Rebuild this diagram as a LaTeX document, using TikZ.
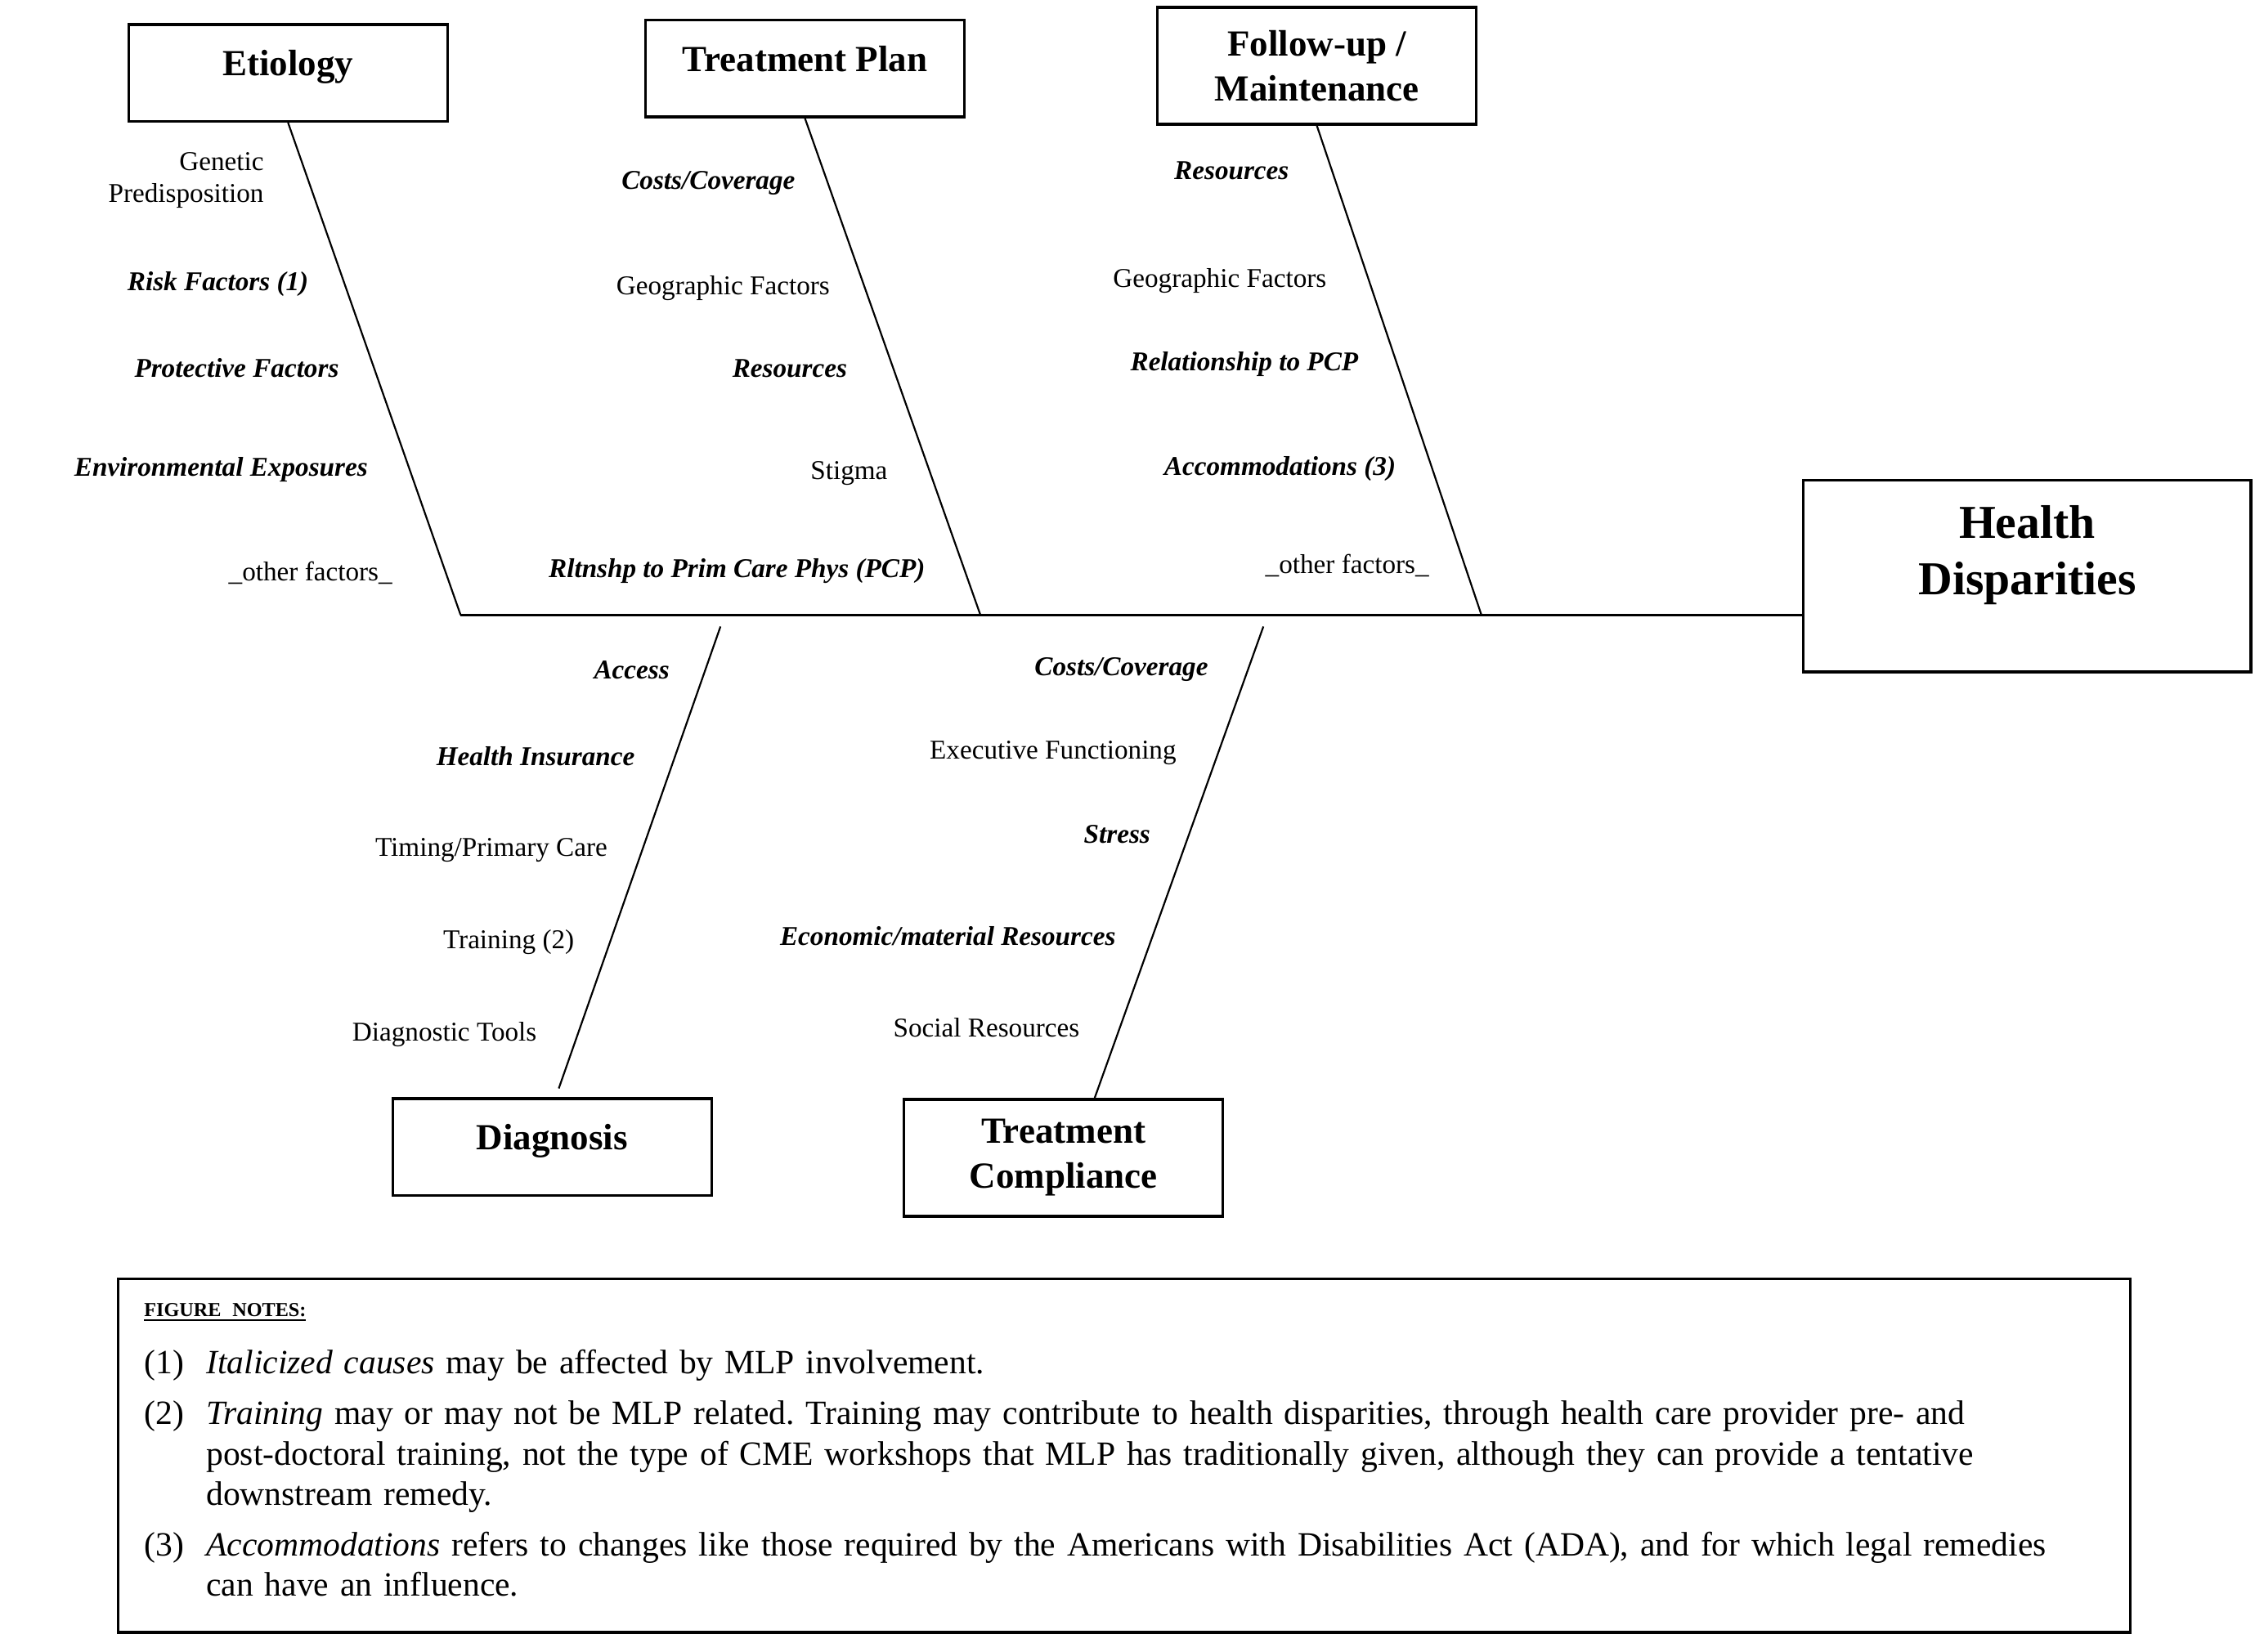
\documentclass[tikz,border=0pt]{standalone}
\usepackage{fontspec}
\setmainfont{Liberation Serif}
\usepackage{tikz}
\frenchspacing

\begin{document}
\begin{tikzpicture}[
  x=0.02cm, y=-0.02cm,
  every node/.style={font=\fontsize{10.7}{12.5}\selectfont},
  % Styles
  headbox/.style={rectangle, draw, line width=1.1pt, minimum width=4.42cm, minimum height=1.34cm, align=center, font=\fontsize{14.5}{17.6}\selectfont\bfseries, text height=0.36cm, text depth=0.28cm},
  headbox2/.style={rectangle, draw, line width=1.1pt, minimum width=4.42cm, minimum height=1.62cm, align=center, font=\fontsize{14.5}{17.6}\selectfont\bfseries},
  effect/.style={rectangle, draw, line width=1.1pt, minimum width=6.2cm, minimum height=2.66cm, align=center, font=\fontsize{18.6}{22.1}\selectfont\bfseries, text depth=0.72cm},
  cause/.style={inner sep=0pt, anchor=east, text height=1.5ex, text depth=0.25ex},
  mlp/.style={cause, font=\fontsize{10.7}{12.5}\selectfont\bfseries\itshape},
  bone/.style={line width=0.7pt},
  spine/.style={line width=1pt},
  notebox/.style={rectangle, draw, line width=1pt, anchor=north west, minimum width=27.88cm, minimum height=4.9cm, inner xsep=0.36cm, text width=27.16cm, align=left, font=\fontsize{13.4}{15.9}\selectfont},
]

  % ── CATEGORY BOXES ─────────────────────────────────────────
  \node[headbox] (etio) at (199.5,50.5) {Etiology};
  \node[headbox] (tplan) at (557.5,47.5) {Treatment Plan};
  \node[headbox2] (follow) at (912,45.5) {Follow-up /\\Maintenance};
  \node[headbox] (diag) at (382.5,794.5) {Diagnosis};
  \node[headbox2] (comply) at (736.5,802) {Treatment\\Compliance};

  % Effect
  \node[effect] (health) at (1404,399) {Health\\Disparities};

  % ── SPINE AND BONES ────────────────────────────────────────
  \coordinate (tail) at (319,426);
  \coordinate (tpJoin) at (679,426);
  \coordinate (fuJoin) at (1026,426);
  \coordinate (dgTop) at (499,434);
  \coordinate (dgEnd) at (387,754);
  \coordinate (tcTop) at (875,434);
  \coordinate (tcEnd) at (758,761);

  \draw[spine] (tail) -- (tail -| health.west);
  \draw[bone] (etio.south) -- (tail);
  \draw[bone] (tplan.south) -- (tpJoin);
  \draw[bone] (follow.south) -- (fuJoin);
  \draw[bone] (dgTop) -- (dgEnd);
  \draw[bone] (tcTop) -- (tcEnd);

  % ── ETIOLOGY CAUSES ────────────────────────────────────────
  \node[cause, align=right, text height=, text depth=] (etGene) at (183,125) {Genetic\\Predisposition};
  \node[mlp] (etRisk) at (214,196) {Risk Factors (1)};
  \node[mlp] (etProt) at (235,256) {Protective Factors};
  \node[mlp] (etEnv) at (255,325) {Environmental Exposures};
  \node[cause] (etOther) at (272,397) {\_other factors\_};

  % ── TREATMENT PLAN CAUSES ──────────────────────────────────
  \node[mlp] (tpCost) at (551,126) {Costs/Coverage};
  \node[cause] (tpGeo) at (575,199) {Geographic Factors};
  \node[mlp] (tpRes) at (587,256) {Resources};
  \node[cause] (tpStig) at (615,327) {Stigma};
  \node[mlp] (tpRel) at (641,395) {Rltnshp to Prim Care Phys (PCP)};

  % ── FOLLOW-UP CAUSES ───────────────────────────────────────
  \node[mlp] (fuRes) at (893,119) {Resources};
  \node[cause] (fuGeo) at (919,194) {Geographic Factors};
  \node[mlp] (fuRel) at (941,252) {Relationship to PCP};
  \node[mlp] (fuAcc) at (967,324) {Accommodations (3)};
  \node[cause] (fuOther) at (990,392) {\_other factors\_};

  % ── DIAGNOSIS CAUSES ───────────────────────────────────────
  \node[mlp] (dgAcc) at (464,465) {Access};
  \node[mlp] (dgIns) at (440,525) {Health Insurance};
  \node[cause] (dgTime) at (421,588) {Timing/Primary Care};
  \node[cause] (dgTrain) at (398,652) {Training (2)};
  \node[cause] (dgTool) at (372,716) {Diagnostic Tools};

  % ── COMPLIANCE CAUSES ──────────────────────────────────────
  \node[mlp] (tcCost) at (837,463) {Costs/Coverage};
  \node[cause] (tcExec) at (815,521) {Executive Functioning};
  \node[mlp] (tcStress) at (797,579) {Stress};
  \node[mlp] (tcEcon) at (773,650) {Economic/material Resources};
  \node[cause] (tcSocial) at (748,713) {Social Resources};

  % ── NOTES ──────────────────────────────────────────────────
  \node[notebox] (notes) at (81,885) {%
    {\fontsize{7.8}{9}\selectfont\bfseries\underline{FIGURE NOTES:}}\par\vspace{0.3cm}
    \begin{tabular}{@{}p{0.86cm}@{}l@{}}
      (1) & \textit{Italicized causes} may be affected by MLP involvement.\\[0.14cm]
      (2) & \textit{Training} may or may not be MLP related. Training may contribute to health disparities, through health care provider pre- and\\
          & post-doctoral training, not the type of CME workshops that MLP has traditionally given, although they can provide a tentative\\
          & downstream remedy.\\[0.14cm]
      (3) & \textit{Accommodations} refers to changes like those required by the Americans with Disabilities Act (ADA), and for which legal remedies\\
          & can have an influence.
    \end{tabular}};

  \useasboundingbox (0,0) rectangle (1568,1144);

\end{tikzpicture}
\end{document}
